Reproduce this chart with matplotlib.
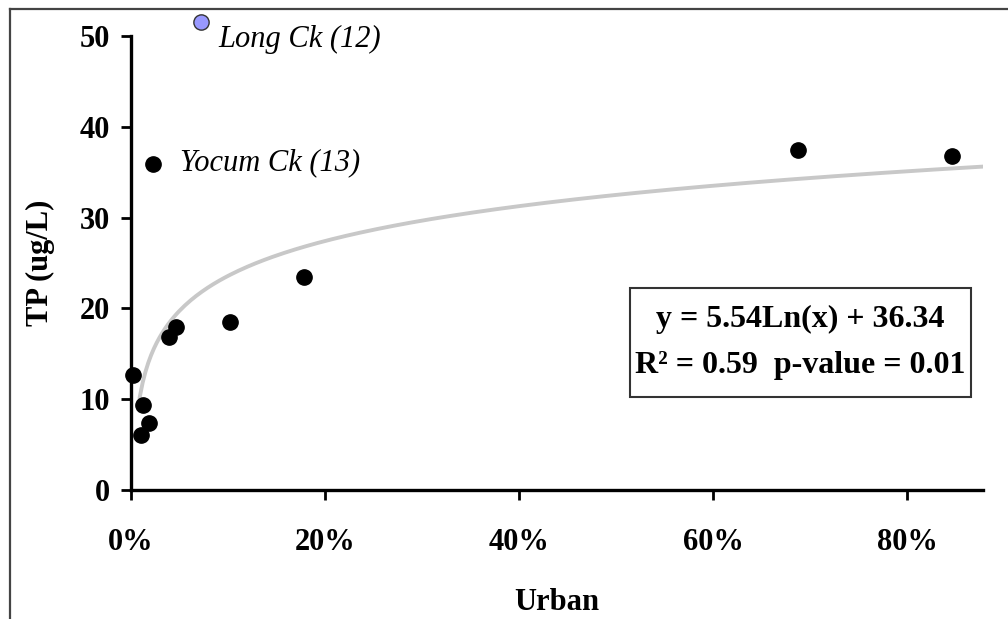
import numpy as np
import matplotlib.pyplot as plt
from matplotlib.lines import Line2D
from matplotlib.patches import Rectangle
from matplotlib.ticker import FuncFormatter

# Urban fraction vs. TP (ug/L)
urban = [0.002, 0.010, 0.012, 0.019, 0.023, 0.039, 0.046, 0.102, 0.178, 0.687, 0.846]
tp = [12.7, 6.1, 9.4, 7.4, 35.9, 16.9, 17.9, 18.5, 23.5, 37.4, 36.8]

long_ck_x = [0.072]
long_ck_y = [51.5]

# log trendline: y = 5.54 ln(x) + 36.34
coef_a = 5.54
coef_b = 36.34

plt.rcParams['font.family'] = ['Liberation Serif', 'DejaVu Serif']

fig = plt.figure(figsize=(10.08, 6.19), dpi=100)
ax = fig.add_axes([0.130, 0.2084, 0.845, 0.7334])

# outer chart frame (cropped at right/bottom)
fig.add_artist(Line2D([10 / 1008, 10 / 1008], [1 - 9 / 619, -0.1],
                      transform=fig.transFigure, color='#444444', lw=1.6))
fig.add_artist(Line2D([10 / 1008, 1.1], [1 - 9 / 619, 1 - 9 / 619],
                      transform=fig.transFigure, color='#444444', lw=1.6))

xs = np.linspace(0.009, 0.88, 300)
ax.plot(xs, coef_a * np.log(xs) + coef_b, color='#c8c8c8', lw=2.8, zorder=1)

ax.plot(urban, tp, 'o', color='black', markersize=11, zorder=3, clip_on=False)
ax.plot(long_ck_x, long_ck_y, 'o', color='#9999ff', markeredgecolor='#333333',
        markeredgewidth=1.0, markersize=11, zorder=3, clip_on=False)

ax.text(0.0897, 49.6, 'Long Ck (12)', style='italic', fontsize=22, va='center')
ax.text(0.0505, 36.0, 'Yocum Ck (13)', style='italic', fontsize=22, va='center')

# equation box
ax.add_patch(Rectangle((0.586, 0.205), 0.400, 0.240, transform=ax.transAxes,
                       facecolor='white', edgecolor='#333333', lw=1.5, zorder=4))
ax.text(0.786, 0.325, 'y = 5.54Ln(x) + 36.34\nR\u00b2 = 0.59  p-value = 0.01',
        transform=ax.transAxes, fontsize=23, fontweight='bold', ha='center',
        va='center', linespacing=1.75, zorder=5)

ax.set_xlim(0, 0.878)
ax.set_ylim(0, 50)
ax.set_xticks([0, 0.2, 0.4, 0.6, 0.8])
ax.set_yticks([0, 10, 20, 30, 40, 50])
ax.xaxis.set_major_formatter(FuncFormatter(lambda v, p: f'{v * 100:.0f}%'))

for s in ['top', 'right']:
    ax.spines[s].set_visible(False)
for s in ['left', 'bottom']:
    ax.spines[s].set_linewidth(2.4)

ax.tick_params(axis='both', width=2, length=7, labelsize=22, direction='out')
ax.tick_params(axis='x', pad=20)
ax.tick_params(axis='y', pad=8)
for lab in ax.get_xticklabels() + ax.get_yticklabels():
    lab.set_fontweight('bold')

ax.set_xlabel('Urban', fontsize=22, fontweight='bold', labelpad=23)
ax.set_ylabel('TP (ug/L)', fontsize=22, fontweight='bold', labelpad=18)

fig.savefig('out.png', dpi=100)
